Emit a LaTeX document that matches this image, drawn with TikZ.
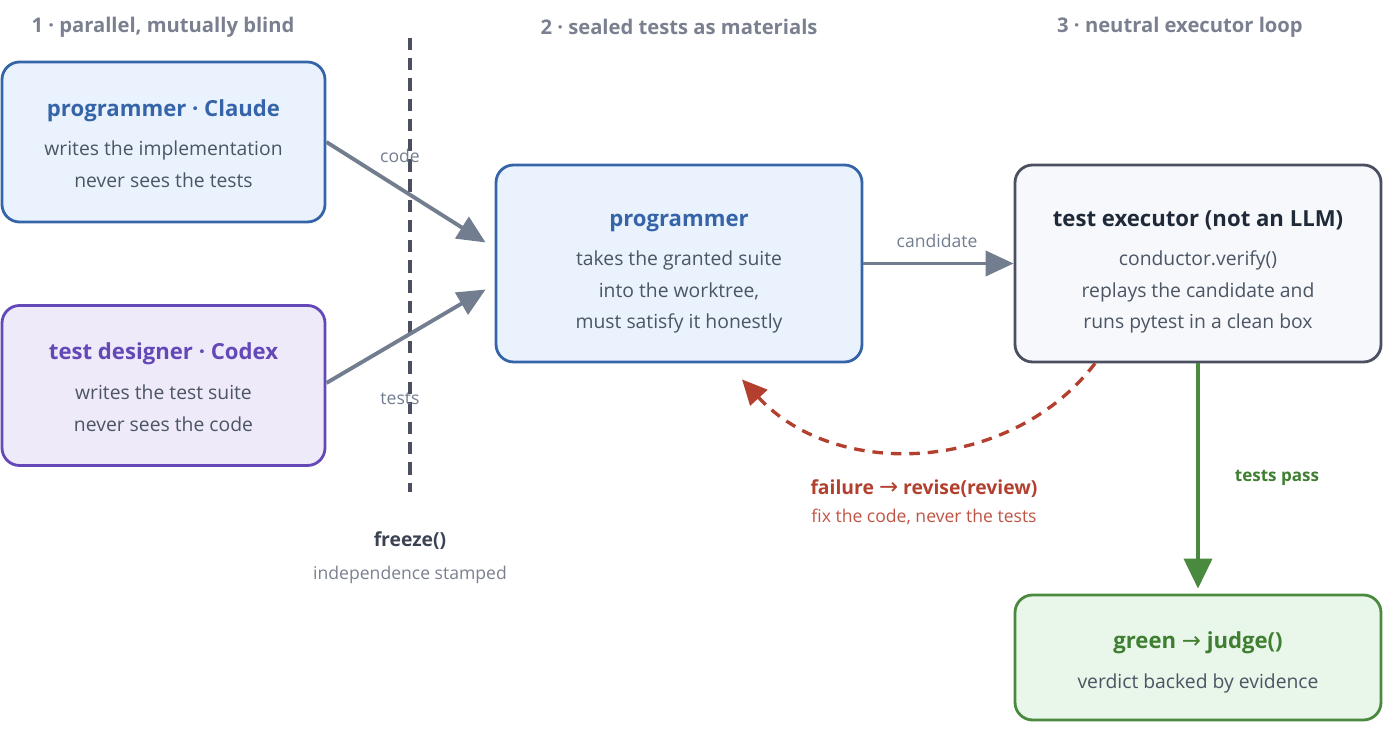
\documentclass[tikz,border=0pt]{standalone}
\usepackage{fontspec}
\setmainfont{Open Sans}
\newfontfamily\arrowfont{DejaVu Sans}
\usetikzlibrary{arrows.meta, positioning, calc}

\definecolor{progblue}{HTML}{3565A8}
\definecolor{progfill}{HTML}{EAF2FD}
\definecolor{designpurple}{HTML}{6548B8}
\definecolor{designfill}{HTML}{EFEAF9}
\definecolor{execdark}{HTML}{4A5060}
\definecolor{exectitle}{HTML}{1F2937}
\definecolor{execfill}{HTML}{F6F8FB}
\definecolor{judgegreen}{HTML}{4A8A3F}
\definecolor{judgetitle}{HTML}{3F7F32}
\definecolor{judgefill}{HTML}{E9F6EA}
\definecolor{bodytext}{HTML}{4B5563}
\definecolor{headgray}{HTML}{7A8090}
\definecolor{arrowgray}{HTML}{737D90}
\definecolor{failred}{HTML}{B3402F}
\definecolor{failtext}{HTML}{C05444}
\definecolor{freezedark}{HTML}{3B4252}

% optional #1: strut height that pushes the text block down a little
\newcommand{\boxhead}[3][0pt]{\rule{0pt}{#1}\textcolor{#2}{\fontsize{12.6}{15}\selectfont\bfseries #3}}
\newcommand{\arr}{{\arrowfont\mdseries\fontsize{13}{13}\selectfont →}}

\begin{document}
\begin{tikzpicture}[
    every node/.style={font=\fontsize{11}{18}\selectfont},
    box/.style={rectangle, draw, line width=1.6pt, rounded corners=10pt, align=center, minimum width=6.46cm, minimum height=3.2cm, text=bodytext},
    bigbox/.style={box, minimum width=7.32cm, minimum height=3.94cm},
    heading/.style={font=\fontsize{11.5}{13}\selectfont\bfseries, text=headgray},
    label/.style={font=\fontsize{10}{12}\selectfont, text=arrowgray},
    arrow/.style={-{Triangle[length=0.56cm, width=0.5cm]}, line width=2.2pt, arrowgray},
    failarrow/.style={-{Triangle[length=0.5cm, width=0.46cm]}, line width=1.9pt, failred, dash pattern=on 6pt off 4.5pt},
    passarrow/.style={-{Triangle[length=0.6cm, width=0.56cm]}, line width=2.2pt, judgegreen},
    freezeline/.style={line width=2.2pt, execdark, dash pattern=on 7pt off 4.5pt}
]
\useasboundingbox (0, 0) rectangle (28, 14.7);

% ============ PHASE 1: PARALLEL, MUTUALLY BLIND ============
\node[heading] (head1) at (3.26, 14.16) {1 · parallel, mutually blind};

\node[box, draw=progblue, fill=progfill] (claude) at (3.27, 11.86)
    {\boxhead[11.5pt]{progblue}{programmer · Claude}\\[4.5pt] writes the implementation\\ never sees the tests};
\node[box, draw=designpurple, fill=designfill] (codex) at (3.27, 6.99)
    {\boxhead[11.5pt]{designpurple}{test designer · Codex}\\[4.5pt] writes the test suite\\ never sees the code};

% Freeze barrier
\coordinate (freezetop) at (8.2, 13.94);
\coordinate (freezebot) at (8.2, 4.86);
\draw[freezeline] (freezetop) -- (freezebot);
\node[font=\fontsize{11}{13}\selectfont\bfseries, text=freezedark] (freeze) at (8.2, 3.88) {freeze()};
\node[font=\fontsize{10}{12}\selectfont, text=headgray] (stamped) at (8.2, 3.2) {independence stamped};

% ============ PHASE 2: SEALED TESTS AS MATERIALS ============
\node[heading] (head2) at (13.58, 14.16) {2 · sealed tests as materials};

\node[bigbox, draw=progblue, fill=progfill] (prog) at (13.58, 9.43)
    {\boxhead[18.5pt]{progblue}{programmer}\\[4.5pt] takes the granted suite\\ into the worktree,\\ must satisfy it honestly};

% Inputs into the programmer
\coordinate (codein) at ($(prog.west)+(-0.18, 0.42)$);
\coordinate (testsin) at ($(prog.west)+(-0.18, -0.52)$);
\draw[arrow] (claude.east) -- (codein);
\draw[arrow] ($(codex.east)+(0, 0.05)$) -- (testsin);
\node[label] (codelbl) at (8.0, 11.58) {code};
\node[label] (testslbl) at (8.0, 6.72) {tests};

% ============ PHASE 3: NEUTRAL EXECUTOR LOOP ============
\node[heading] (head3) at (23.6, 14.16) {3 · neutral executor loop};

\node[bigbox, draw=execdark, fill=execfill] (exec) at (23.96, 9.43)
    {\boxhead[18.5pt]{exectitle}{test executor (not an LLM)}\\[4.5pt] conductor.verify()\\ replays the candidate and\\ runs pytest in a clean box};
\node[bigbox, draw=judgegreen, fill=judgefill, minimum height=2.5cm] (judge) at (23.96, 1.55)
    {\boxhead[15pt]{judgetitle}{green \arr{} judge()}\\[4.5pt] verdict backed by evidence};

% Candidate hand-off
\draw[arrow] (prog.east) -- (exec.west);
\node[label] (candlbl) at (18.74, 9.88) {candidate};

% Failure loop back to the programmer
\coordinate (failout) at ($(exec.south)+(-2.06, 0)$);
\coordinate (failin) at ($(prog.south)+(1.26, -0.32)$);
\draw[failarrow] (failout) to[bend left=50] (failin);
\node[font=\fontsize{11}{13}\selectfont\bfseries, text=failred] (faillbl) at (18.48, 4.92) {failure \arr{} revise(review)};
\node[font=\fontsize{10}{12}\selectfont, text=failtext] (failsub) at (18.48, 4.36) {fix the code, never the tests};

% Pass to judge
\draw[passarrow, shorten >=0.1cm] (exec.south) -- (judge.north);
\node[font=\fontsize{9.7}{11}\selectfont\bfseries, text=judgetitle] (passlbl) at (25.54, 5.14) {tests pass};

\end{tikzpicture}
\end{document}
